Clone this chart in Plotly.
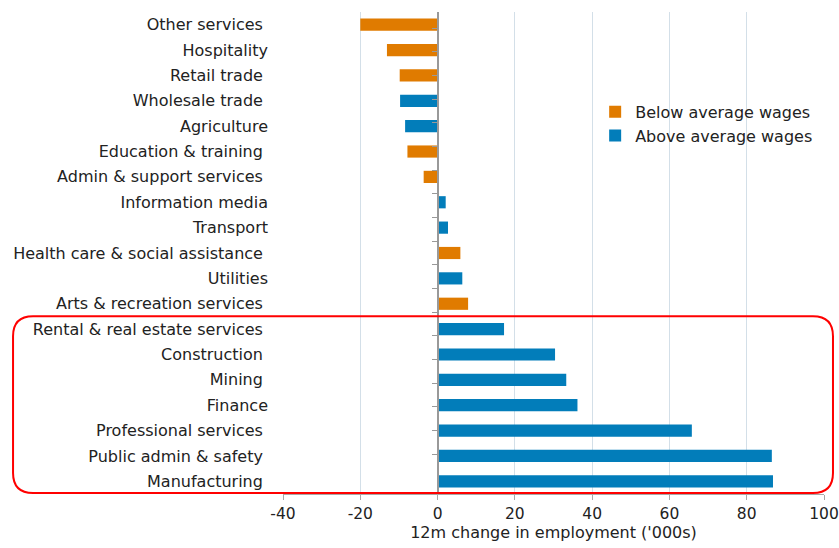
import plotly.graph_objects as go

categories = ["Other services", "Hospitality", "Retail trade", "Wholesale trade", "Agriculture",
              "Education & training", "Admin & support services", "Information media", "Transport",
              "Health care & social assistance", "Utilities", "Arts & recreation services",
              "Rental & real estate services", "Construction", "Mining", "Finance",
              "Professional services", "Public admin & safety", "Manufacturing"]
values = [-20.0, -13.1, -9.8, -9.7, -8.4, -7.8, -3.6, 2.1, 2.7, 5.9, 6.4, 7.9,
          17.2, 30.4, 33.3, 36.2, 65.8, 86.5, 86.8]
wage_group = ["below", "below", "below", "above", "above", "below", "below", "above", "above",
              "below", "above", "below", "above", "above", "above", "above", "above", "above", "above"]
# labels drawn with a trailing space in the original
trailing_space = ["Other services", "Retail trade", "Wholesale trade", "Education & training",
                  "Admin & support services", "Health care & social assistance",
                  "Arts & recreation services", "Rental & real estate services", "Construction",
                  "Mining", "Professional services", "Public admin & safety", "Manufacturing"]
x_ticks = [-40, -20, 0, 20, 40, 60, 80, 100]
x_tick_labels = ["-40", "-20", "0", "20", "40", "60", "80", "100"]

ORANGE = "#E07B00"
BLUE = "#027DBA"
FONT = "DejaVu Sans"
FS = 16

fig = go.Figure()
for key, name, color in [("below", "Below average wages", ORANGE), ("above", "Above average wages", BLUE)]:
    ys = [c for c, g in zip(categories, wage_group) if g == key]
    xs = [v for v, g in zip(values, wage_group) if g == key]
    fig.add_trace(go.Bar(x=xs, y=ys, orientation="h", name=name, width=0.48,
                         marker=dict(color=color, line=dict(width=0))))

# invisible trace carrying the category axis drawn at x = 0
fig.add_trace(go.Scatter(x=[0] * len(categories), y=categories, mode="markers",
                         marker=dict(opacity=0), showlegend=False, hoverinfo="skip",
                         yaxis="y2"))

ticktext = [c + ("\u00a0" if c in trailing_space else "") for c in categories]

fig.update_layout(
    width=839, height=548,
    margin=dict(l=283, r=15, t=12, b=54, autoexpand=False),
    paper_bgcolor="white", plot_bgcolor="white",
    barmode="overlay",
    font=dict(family=FONT, size=FS, color="#222222"),
    xaxis=dict(range=[-40, 100], tickvals=x_ticks, ticktext=x_tick_labels, showgrid=True,
               gridcolor="#D3DFE8", gridwidth=1, zeroline=False, showline=True,
               linecolor="#A8A8A8", ticks="outside", ticklen=5, tickcolor="#A8A8A8",
               automargin=False, ticklabeloverflow="allow",
               title=dict(text="12m change in employment ('000s)", standoff=4,
                          font=dict(family=FONT, size=FS)),
               tickfont=dict(family=FONT, size=15.5)),
    yaxis=dict(type="category", categoryarray=categories, tickvals=categories, ticktext=ticktext,
               autorange="reversed", showgrid=False, zeroline=False, showline=False,
               ticks="", ticklabelstandoff=14, automargin=False,
               tickfont=dict(family=FONT, size=FS)),
    yaxis2=dict(type="category", categoryarray=categories, autorange="reversed",
                overlaying="y", anchor="free", position=40 / 140, side="left",
                showline=True, linecolor="#999999", linewidth=1.5, automargin=False,
                ticks="outside", tickson="boundaries", ticklen=5, tickcolor="#999999",
                showticklabels=False, showgrid=False, zeroline=False),
    legend=dict(x=0.577, y=0.828, xanchor="left", yanchor="top", bgcolor="rgba(0,0,0,0)",
                font=dict(family=FONT, size=FS), itemwidth=30, tracegroupgap=0),
)

# rounded red highlight box around the bottom seven categories (paper coordinates)
x0, x1, y0, y1 = -0.499, 1.0166, 0.002, 0.369
rx, ry = 0.037, 0.0415
path = (f"M {x0+rx},{y1} L {x1-rx},{y1} Q {x1},{y1} {x1},{y1-ry} "
        f"L {x1},{y0+ry} Q {x1},{y0} {x1-rx},{y0} L {x0+rx},{y0} Q {x0},{y0} {x0},{y0+ry} "
        f"L {x0},{y1-ry} Q {x0},{y1} {x0+rx},{y1} Z")
fig.add_shape(type="path", path=path, xref="paper", yref="paper",
              line=dict(color="#FF0000", width=2))

# remove the default page margin so the figure fills the window exactly
fig.write_html("out.html", config={"displayModeBar": False},
               post_script="document.body.style.margin='0';document.body.style.overflow='hidden';")
